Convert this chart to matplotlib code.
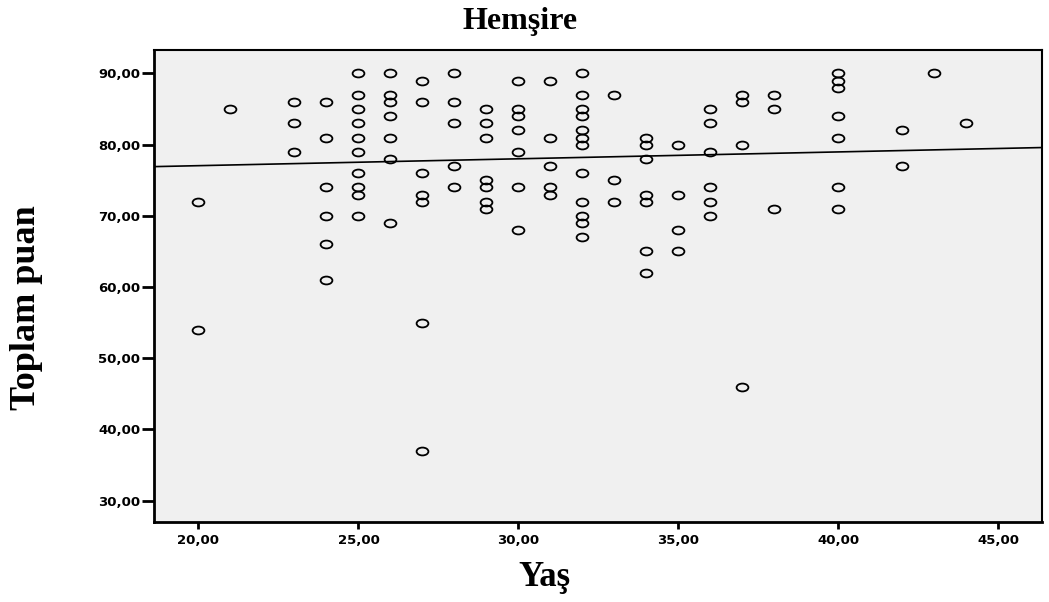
import matplotlib.pyplot as plt
import numpy as np
from matplotlib.path import Path
from matplotlib.transforms import Affine2D

# yas -> toplam puan values
ages = {
    20: [72, 54],
    21: [85],
    23: [86, 83, 79],
    24: [86, 81, 74, 70, 66, 61],
    25: [90, 87, 85, 83, 81, 79, 76, 74, 73, 70],
    26: [90, 87, 86, 84, 81, 78, 69],
    27: [89, 86, 76, 73, 72, 55, 37],
    28: [90, 86, 83, 77, 74],
    29: [85, 83, 81, 75, 74, 72, 71],
    30: [89, 85, 84, 82, 79, 74, 68],
    31: [89, 81, 77, 74, 73],
    32: [90, 87, 85, 84, 82, 81, 80, 76, 72, 70, 69, 67],
    33: [87, 75, 72],
    34: [81, 80, 78, 73, 72, 65, 62],
    35: [80, 73, 68, 65],
    36: [85, 83, 79, 74, 72, 70],
    37: [87, 86, 80, 46],
    38: [87, 85, 71],
    40: [90, 89, 88, 84, 81, 74, 71],
    42: [82, 77],
    43: [90],
    44: [83],
}
yas = []
puan = []
for a in ages:
    for p in ages[a]:
        yas.append(a)
        puan.append(p)
yas = np.array(yas, dtype=float)
puan = np.array(puan, dtype=float)

# fit line as drawn in the chart (the plotted points hide some duplicates)
fit_intercept = 75.12
fit_slope = 0.0966

xticks = [20, 25, 30, 35, 40, 45]
yticks = [30, 40, 50, 60, 70, 80, 90]

# wide ellipse marker like the SPSS one
ell = Path.unit_circle().transformed(Affine2D().scale(1.5, 1.0))

fig = plt.figure(figsize=(10.49, 6.02), dpi=100)
ax = fig.add_axes([154 / 1049, 1 - 522 / 602, 888 / 1049, 472 / 602])
ax.set_facecolor("#f0f0f0")

ax.plot(yas, puan, linestyle="none", marker=ell, markersize=8.5,
        markerfacecolor="none", markeredgecolor="black", markeredgewidth=1.3)

xmin, xmax = 18.61, 46.36
xx = np.array([xmin, xmax])
ax.plot(xx, fit_intercept + fit_slope * xx, color="black", linewidth=1.2)

ax.set_xlim(xmin, xmax)
ax.set_ylim(27.0, 93.3)
ax.set_xticks(xticks)
ax.set_yticks(yticks)
ax.set_xticklabels(["%d,00" % v for v in xticks])
ax.set_yticklabels(["%d,00" % v for v in yticks])
for lab in ax.get_xticklabels() + ax.get_yticklabels():
    lab.set_fontfamily("DejaVu Sans")
    lab.set_fontweight("bold")
    lab.set_fontsize(9.5)
ax.tick_params(axis="y", direction="out", length=9, width=2, pad=1)
ax.tick_params(axis="x", direction="out", length=5, width=2, pad=4)
for s in ax.spines.values():
    s.set_linewidth(1.5)
ax.spines["bottom"].set_linewidth(2)
ax.spines["left"].set_linewidth(2)

fig.text(520 / 1049, 1 - 21 / 602, "Hemşire", ha="center", va="center",
         family="Liberation Serif", weight="bold", fontsize=23)
fig.text(544 / 1049, 1 - 578 / 602, "Yaş", ha="center", va="center",
         family="Liberation Serif", weight="bold", fontsize=25)
fig.text(27 / 1049, 1 - 308 / 602, "Toplam puan", ha="center", va="center",
         rotation=90, family="Liberation Serif", weight="bold", fontsize=26)

fig.savefig("out.png", dpi=100)
